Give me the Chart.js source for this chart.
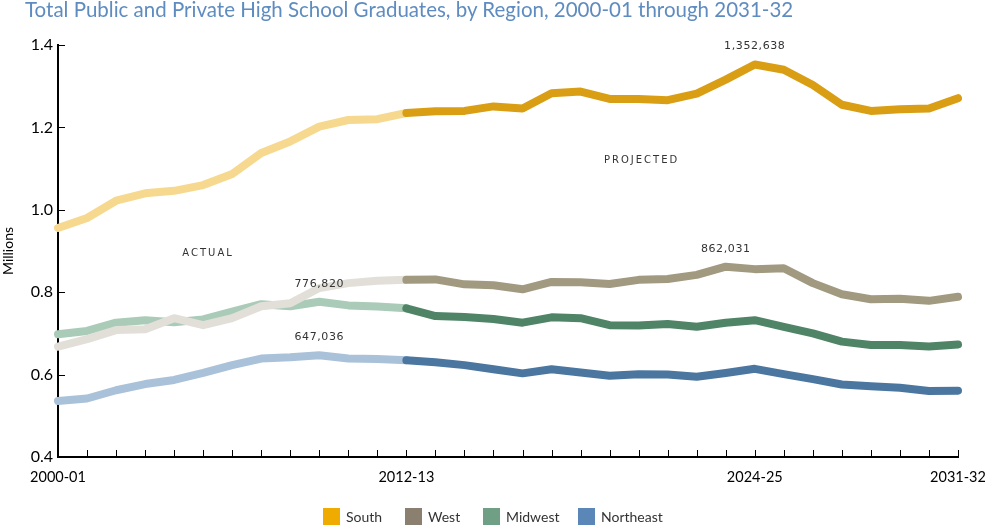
<!DOCTYPE html>
<html>
<head>
<meta charset="utf-8">
<script src="https://cdn.jsdelivr.net/npm/chart.js@4/dist/chart.umd.min.js"></script>
<style>
  html, body { margin: 0; padding: 0; background: #ffffff; }
  #wrap { position: relative; width: 985px; height: 526px; overflow: hidden; }
  #title { position: absolute; left: 25px; top: -1px; font: 20.5px/1 Lato, sans-serif; color: #5e8cc1; white-space: nowrap; }
  #legend { position: absolute; left: 0; top: 507px; width: 985px; height: 18px; }
  .item { position: absolute; top: 0; height: 18px; display: flex; align-items: center; font: 14px Lato, sans-serif; color: #333; white-space: nowrap; }
  .box { width: 17px; height: 17px; margin-right: 6px; box-sizing: border-box; }
</style>
</head>
<body>
<div id="wrap">
  <canvas id="c" width="985" height="526"></canvas>
  <div id="title">Total Public and Private High School Graduates, by Region, 2000-01 through 2031-32</div>
  <div id="legend"></div>
</div>
<script>
const years = ['2000-01','2001-02','2002-03','2003-04','2004-05','2005-06','2006-07','2007-08','2008-09','2009-10','2010-11','2011-12','2012-13','2013-14','2014-15','2015-16','2016-17','2017-18','2018-19','2019-20','2020-21','2021-22','2022-23','2023-24','2024-25','2025-26','2026-27','2027-28','2028-29','2029-30','2030-31','2031-32'];
const shownYearLabels = ['2000-01','2012-13','2024-25','2031-32'];
const lastActualIndex = 12;

const south     = [0.956,0.980,1.022,1.040,1.046,1.060,1.087,1.138,1.166,1.202,1.218,1.220,1.235,1.239,1.240,1.251,1.246,1.283,1.287,1.269,1.269,1.266,1.282,1.316,1.3526,1.340,1.303,1.255,1.240,1.244,1.246,1.271];
const west      = [0.668,0.686,0.708,0.710,0.737,0.720,0.737,0.766,0.773,0.810,0.822,0.828,0.830,0.831,0.819,0.817,0.807,0.825,0.824,0.820,0.830,0.832,0.842,0.862,0.856,0.858,0.822,0.795,0.783,0.784,0.779,0.789];
const midwest   = [0.698,0.706,0.726,0.732,0.727,0.734,0.753,0.771,0.766,0.7768,0.768,0.765,0.761,0.742,0.740,0.735,0.726,0.739,0.737,0.720,0.719,0.723,0.716,0.726,0.732,0.716,0.700,0.680,0.672,0.672,0.668,0.673];
const northeast = [0.536,0.542,0.562,0.577,0.587,0.604,0.623,0.639,0.642,0.647,0.639,0.638,0.635,0.630,0.623,0.613,0.603,0.613,0.605,0.597,0.601,0.600,0.595,0.604,0.614,0.601,0.589,0.576,0.572,0.568,0.560,0.561];

const regionNames = ['South','West','Midwest','Northeast'];
const regionValues = [south, west, midwest, northeast];
const actualColors = ['#f6d98f','#e2dfd8','#a9cbb7','#aac2d9'];
const projectedColors = ['#d99e14','#a19a80','#4f8466','#4a76a0'];
const legendColors = ['#f0ab00','#8b7f70','#6fa086','#5b87b8'];
const legendX = [323, 405, 483, 578];

// annotations: [text, region index, year index]
const valueNotes = [
  ['1,352,638', 0, 24],
  ['862,031', 1, 23],
  ['776,820', 2, 9],
  ['647,036', 3, 9]
];
// phase labels: [text, x (category index), y (value)]
const phaseNotes = [
  ['ACTUAL', 5.17, 0.895],
  ['PROJECTED', 20.1, 1.121]
];

const datasets = [];
regionValues.forEach((vals, r) => {
  datasets.push({
    label: regionNames[r] + ' projected',
    data: vals.map((v, i) => i >= lastActualIndex ? v : null),
    borderColor: projectedColors[r],
    backgroundColor: projectedColors[r],
    borderWidth: 8,
    pointRadius: 0,
    borderCapStyle: 'round',
    borderJoinStyle: 'round',
    tension: 0,
    order: 1
  });
});
regionValues.forEach((vals, r) => {
  datasets.push({
    label: regionNames[r] + ' actual',
    data: vals.map((v, i) => i <= lastActualIndex ? v : null),
    borderColor: actualColors[r],
    backgroundColor: actualColors[r],
    borderWidth: 8,
    pointRadius: 0,
    borderCapStyle: 'round',
    borderJoinStyle: 'round',
    tension: 0,
    order: 2 + r
  });
});

// legend (HTML, real text)
const lg = document.getElementById('legend');
regionNames.forEach((n, r) => {
  const it = document.createElement('div');
  it.className = 'item';
  it.style.left = legendX[r] + 'px';
  const b = document.createElement('div');
  b.className = 'box';
  b.style.background = legendColors[r];
  it.appendChild(b);
  it.appendChild(document.createTextNode(n));
  lg.appendChild(it);
});

const innerTicks = {
  id: 'innerTicks',
  afterDatasetsDraw(chart) {
    const ctx = chart.ctx;
    const xs = chart.scales.x;
    const ys = chart.scales.y;
    const base = ys.bottom;
    ctx.save();
    ctx.strokeStyle = '#000';
    ctx.lineWidth = 1;
    for (let i = 0; i < years.length; i++) {
      const px = Math.round(xs.getPixelForValue(i)) + 0.5;
      ctx.beginPath();
      ctx.moveTo(px, base);
      ctx.lineTo(px, base - 7);
      ctx.stroke();
    }
    ys.ticks.forEach(t => {
      const py = Math.round(ys.getPixelForValue(t.value)) + 0.5;
      ctx.beginPath();
      ctx.moveTo(xs.left, py);
      ctx.lineTo(xs.left + 7, py);
      ctx.stroke();
    });
    // annotations
    ctx.fillStyle = '#333';
    ctx.textAlign = 'center';
    ctx.textBaseline = 'middle';
    ctx.font = '11px "DejaVu Sans"';
    ctx.letterSpacing = '0.6px';
    valueNotes.forEach(([t, r, i]) => {
      const px = xs.getPixelForValue(i);
      const py = ys.getPixelForValue(regionValues[r][i]) - 18;
      ctx.fillText(t, px, py);
    });
    ctx.font = '10px "DejaVu Sans"';
    ctx.letterSpacing = '2px';
    phaseNotes.forEach(([t, xi, yv]) => {
      ctx.fillText(t, xs.getPixelForValue(xi), ys.getPixelForValue(yv));
    });
    ctx.restore();
  }
};

new Chart(document.getElementById('c'), {
  type: 'line',
  data: { labels: years, datasets: datasets },
  plugins: [innerTicks],
  options: {
    responsive: false,
    animation: false,
    devicePixelRatio: 1,
    layout: { padding: { left: 0, right: 0, top: 45, bottom: 33 } },
    plugins: {
      tooltip: { enabled: false },
      title: { display: false },
      legend: { display: false }
    },
    scales: {
      x: {
        offset: false,
        grid: { display: false, drawTicks: false },
        border: { display: true, color: '#000', width: 2 },
        afterFit: s => { s.height = 36; s.paddingRight = 27; s.paddingLeft = 0; },
        ticks: {
          autoSkip: false,
          maxRotation: 0,
          color: '#000',
          padding: 12,
          font: { family: 'Lato', size: 14.5 },
          callback: function(v, i) { const l = years[i]; return shownYearLabels.includes(l) ? l : ''; }
        }
      },
      y: {
        min: 0.4,
        max: 1.4,
        afterFit: s => { s.width = 58; },
        grid: { drawOnChartArea: false, drawTicks: false },
        border: { display: true, color: '#000', width: 2 },
        ticks: {
          stepSize: 0.2,
          color: '#000',
          padding: 5,
          font: { family: 'Lato', size: 16 },
          callback: v => v.toFixed(1)
        },
        title: {
          display: true,
          text: 'Millions',
          color: '#000',
          font: { family: 'Lato', size: 14 },
          padding: { top: 0, bottom: 0 }
        }
      }
    }
  }
});
</script>
</body>
</html>
